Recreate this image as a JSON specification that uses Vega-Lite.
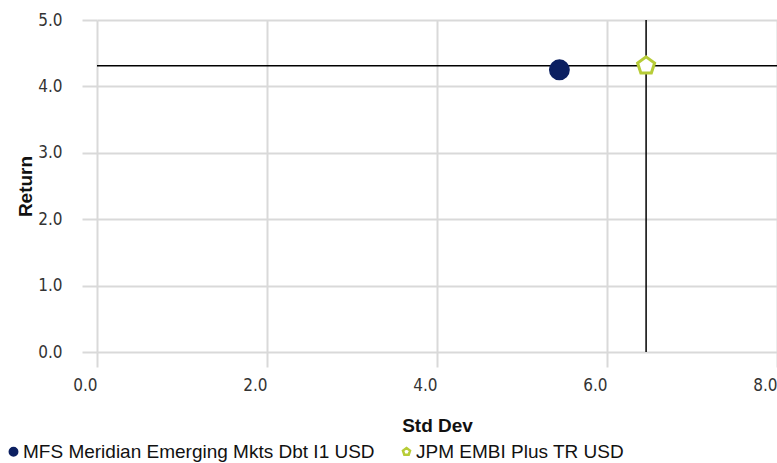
{
  "$schema": "https://vega.github.io/schema/vega-lite/v6.json",
  "width": 680,
  "height": 332,
  "autosize": "none",
  "padding": {"left": 97, "top": 20, "right": 0, "bottom": 111},
  "background": "white",
  "data": {
    "values": [
      {"series": "MFS Meridian Emerging Mkts Dbt I1 USD", "std": 5.44, "ret": 4.25, "kind": "fund"},
      {"series": "JPM EMBI Plus TR USD", "std": 6.46, "ret": 4.31, "kind": "benchmark"}
    ]
  },
  "config": {
    "view": {"stroke": null},
    "axis": {
      "gridColor": "#d9d9d9",
      "gridWidth": 2,
      "tickColor": "#d9d9d9",
      "tickWidth": 2,
      "tickSize": 15,
      "domain": false,
      "labelFont": "DejaVu Sans Condensed",
      "labelFontSize": 17,
      "labelColor": "#333333",
      "titleFont": "Liberation Sans",
      "titleFontWeight": "bold",
      "titleColor": "#111111"
    }
  },
  "layer": [
    {
      "transform": [{"filter": "datum.kind == 'benchmark'"}],
      "mark": {"type": "rule", "color": "#000000", "strokeWidth": 1.5},
      "encoding": {
        "y": {"field": "ret", "type": "quantitative", "scale": {"domain": [0, 5], "nice": false}}
      }
    },
    {
      "transform": [{"filter": "datum.kind == 'benchmark'"}],
      "mark": {"type": "rule", "color": "#000000", "strokeWidth": 1.5},
      "encoding": {
        "x": {"field": "std", "type": "quantitative", "scale": {"domain": [0, 8], "nice": false}}
      }
    },
    {
      "mark": {"type": "point", "filled": false, "strokeWidth": 3, "opacity": 1},
      "encoding": {
        "x": {
          "field": "std", "type": "quantitative",
          "scale": {"domain": [0, 8], "nice": false},
          "axis": {
            "values": [0, 2, 4, 6, 8], "format": ".1f", "title": "Std Dev",
            "titleFontSize": 19, "titleY": 73, "titleBaseline": "middle",
            "labelAlign": "right", "labelPadding": 10, "labelFlush": false
          }
        },
        "y": {
          "field": "ret", "type": "quantitative",
          "scale": {"domain": [0, 5], "nice": false},
          "axis": {
            "values": [0, 1, 2, 3, 4, 5], "format": ".1f", "title": "Return",
            "titleFontSize": 19, "titleX": -72, "titleBaseline": "middle",
            "labelPadding": 20, "labelFlush": false
          }
        },
        "shape": {
          "field": "series", "type": "nominal",
          "scale": {
            "domain": ["MFS Meridian Emerging Mkts Dbt I1 USD", "JPM EMBI Plus TR USD"],
            "range": ["circle", "M0,-1L0.951,-0.309L0.588,0.809L-0.588,0.809L-0.951,-0.309Z"]
          },
          "legend": {
            "orient": "none", "direction": "horizontal", "columns": 2, "title": null,
            "legendX": -93, "legendY": 422,
            "labelFont": "Liberation Sans", "labelFontSize": 19, "labelColor": "#111111",
            "labelLimit": 0,
            "symbolSize": 55, "symbolStrokeWidth": 2.5, "labelOffset": 0, "columnPadding": 22
          }
        },
        "fill": {
          "field": "series", "type": "nominal",
          "scale": {
            "domain": ["MFS Meridian Emerging Mkts Dbt I1 USD", "JPM EMBI Plus TR USD"],
            "range": ["#0c2061", "#ffffff"]
          }
        },
        "stroke": {
          "field": "series", "type": "nominal",
          "scale": {
            "domain": ["MFS Meridian Emerging Mkts Dbt I1 USD", "JPM EMBI Plus TR USD"],
            "range": ["#0c2061", "#b7cc37"]
          }
        },
        "size": {"value": 320}
      }
    }
  ]
}
